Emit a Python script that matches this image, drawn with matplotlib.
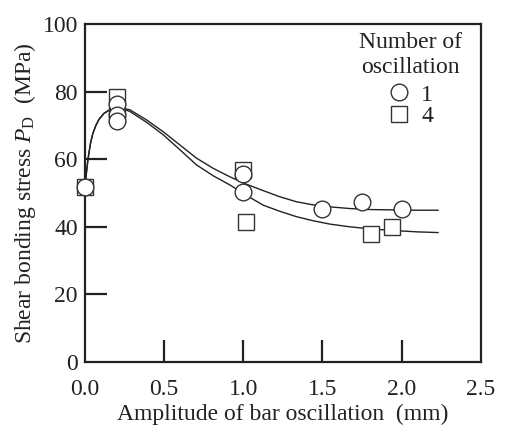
import matplotlib
matplotlib.use("Agg")
import matplotlib.pyplot as plt
from matplotlib.lines import Line2D

plt.rcParams['font.family'] = ['Liberation Serif', 'DejaVu Serif']
plt.rcParams['mathtext.fontset'] = 'custom'
plt.rcParams['mathtext.rm'] = 'Liberation Serif'
plt.rcParams['mathtext.it'] = 'Liberation Serif:italic'

# measured points, 1 oscillation (circles)
amp_1 = [0.0, 0.2, 0.2, 0.2, 1.0, 1.0, 1.5, 1.75, 2.0]
stress_1 = [51.8, 76.3, 73.0, 71.4, 55.6, 50.2, 45.2, 47.3, 45.2]

# measured points, 4 oscillations (squares)
amp_4 = [0.0, 0.2, 0.2, 1.0, 1.02, 1.81, 1.94]
stress_4 = [51.8, 78.3, 73.0, 56.8, 41.5, 37.9, 40.0]

# fitted curves
curve_x = [0.0, 0.005, 0.01, 0.02, 0.035, 0.05, 0.07, 0.09, 0.12, 0.15, 0.19,
           0.24, 0.284, 0.39, 0.495, 0.60, 0.705, 0.81, 0.915, 1.02, 1.126,
           1.23, 1.336, 1.44, 1.547, 1.673, 1.80, 1.95, 2.10, 2.23]
curve_upper = [52.0, 54.0, 56.0, 60.0, 64.5, 67.5, 70.0, 71.8, 73.5, 74.4, 74.9,
               75.0, 74.6, 71.6, 68.1, 64.2, 60.3, 57.3, 54.8, 52.6, 50.7,
               48.9, 47.4, 46.5, 45.9, 45.4, 45.1, 45.0, 44.9, 44.9]
curve_lower = [52.0, 54.0, 56.0, 60.0, 64.5, 67.5, 70.0, 71.8, 73.5, 74.4, 74.9,
               74.9, 74.1, 70.9, 67.2, 62.8, 58.3, 55.1, 52.4, 49.3, 46.4,
               44.6, 43.0, 41.8, 40.8, 40.0, 39.4, 38.9, 38.5, 38.3]

x_ticks = [0.0, 0.5, 1.0, 1.5, 2.0, 2.5]
y_ticks = [0, 20, 40, 60, 80, 100]

fig = plt.figure(figsize=(5.05, 4.26), dpi=100)
ax = fig.add_axes([0.168, 0.150, 0.784, 0.794])

ink = '#222222'
ax.plot(curve_x, curve_upper, color=ink, lw=1.0, zorder=2)
ax.plot(curve_x, curve_lower, color=ink, lw=1.0, zorder=2)

ax.plot(amp_4, stress_4, ls='none', marker='s', ms=11.5, mfc='white',
        mec='#333333', mew=1.0, zorder=3, clip_on=False)
ax.plot(amp_1, stress_1, ls='none', marker='o', ms=12, mfc='white',
        mec='#333333', mew=1.0, zorder=4, clip_on=False)

ax.set_xlim(0, 2.5)
ax.set_ylim(0, 100)
ax.set_xticks(x_ticks)
ax.set_yticks(y_ticks)
ax.set_xticklabels([f'{v:.1f}' for v in x_ticks])
ax.set_yticklabels([str(v) for v in y_ticks])

ax.tick_params(axis='both', direction='in', length=16, width=1.6,
               labelsize=17, color=ink, labelcolor=ink)
ax.tick_params(axis='x', pad=12)
ax.tick_params(axis='y', pad=5)
# end ticks at 0 and the top are not drawn
for t in ax.xaxis.get_major_ticks()[::5]:
    t.tick1line.set_visible(False)
for t in [ax.yaxis.get_major_ticks()[0], ax.yaxis.get_major_ticks()[-1]]:
    t.tick1line.set_visible(False)

for s in ax.spines.values():
    s.set_linewidth(1.6)
    s.set_color(ink)

ax.set_xlabel('Amplitude of bar oscillation  (mm)', fontsize=17, color=ink,
              labelpad=3)
ax.set_ylabel(r'Shear bonding stress $P_{\mathrm{D}}$  (MPa)', fontsize=17,
              color=ink, labelpad=3)

# legend title as separate centred text
ax.text(0.823, 0.975, 'Number of\noscillation', transform=ax.transAxes,
        ha='center', va='top', fontsize=17, color=ink, linespacing=1.2,
        multialignment='center')

handles = [
    Line2D([], [], ls='none', marker='o', ms=12, mfc='white', mec='#333333', mew=1.0),
    Line2D([], [], ls='none', marker='s', ms=11.5, mfc='white', mec='#333333', mew=1.0),
]
leg = ax.legend(handles, ['1', '4'], loc='upper left',
                bbox_to_anchor=(0.757, 0.822), frameon=False,
                fontsize=17, handletextpad=0.35, handlelength=1.2,
                labelspacing=0.0, borderaxespad=0.0, borderpad=0.0)
for t in leg.get_texts():
    t.set_color(ink)

fig.savefig('out.png', dpi=100)
